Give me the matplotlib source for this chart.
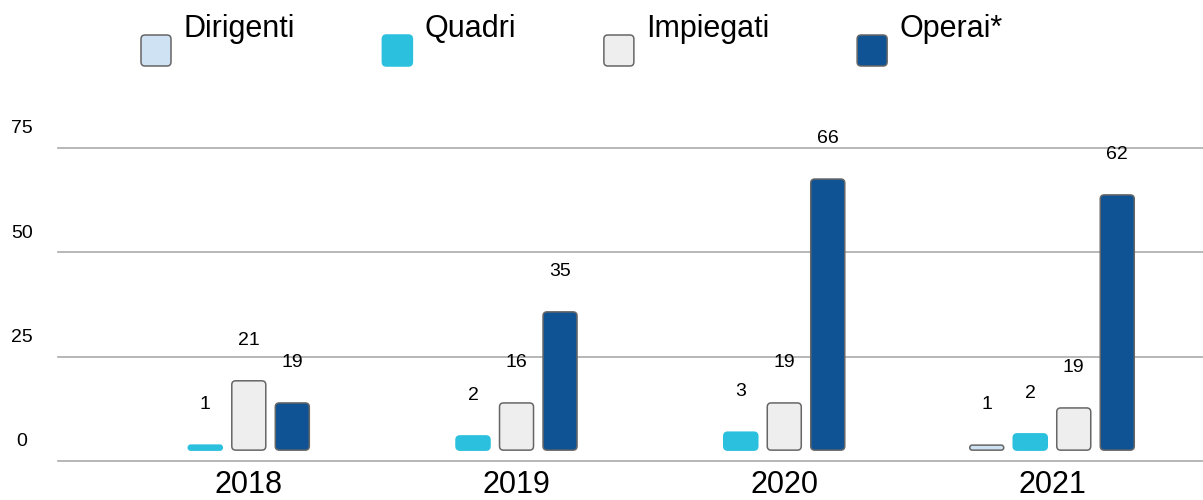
import matplotlib
matplotlib.use('Agg')
import matplotlib.pyplot as plt
from matplotlib.patches import FancyBboxPatch
from matplotlib.transforms import IdentityTransform

plt.rcParams['font.family'] = ['Liberation Sans', 'DejaVu Sans']

years = ['2018', '2019', '2020', '2021']
series = ['Dirigenti', 'Quadri', 'Impiegati', 'Operai*']

# numbers printed over the bars
dirigenti = [0, 0, 0, 1]
quadri = [1, 2, 3, 2]
impiegati = [21, 16, 19, 19]
operai = [19, 35, 66, 62]

# bar tops as drawn in the source (they don't follow the printed numbers)
dirigenti_top = [0, 0, 0, 3.8]
quadri_top = [3.8, 6.0, 6.9, 6.5]
impiegati_top = [19.2, 13.9, 13.9, 12.7]
operai_top = [13.9, 35.7, 67.5, 63.7]

yticks = [0, 25, 50, 75]

colors = ['#cfe2f3', '#2bc0de', '#eeeeee', '#0f5394']
edges = ['#666666', '#2bc0de', '#666666', '#666666']

W, H = 1203, 500
fig = plt.figure(figsize=(W / 100, H / 100), dpi=100)
ax = fig.add_axes([58 / W, 39 / H, (W - 58) / W, 313.3 / H])
ax.set_ylim(0, 75)
ax.set_xlim(-0.7126, 3.564)
ax.axis('off')

# gridlines + y labels (labels sit above their line)
for t in yticks:
    ax.axhline(t, color='#aaaaaa', lw=1.2, zorder=0, clip_on=False)
    ax.annotate(str(t), xy=(22, t), xycoords=('figure pixels', 'data'),
                xytext=(0, 14.5), textcoords='offset pixels',
                ha='center', va='baseline', fontsize=14)

# pixel size of one data unit, used to keep the corners round
p0 = ax.transData.transform((0, 0))
p1 = ax.transData.transform((1, 1))
sx, sy = p1[0] - p0[0], p1[1] - p0[1]


def round_bar(rect, fc, ec):
    x, y = rect.get_x(), rect.get_y()
    w, h = rect.get_width(), rect.get_height()
    rect.remove()
    r = min(4, h * sy / 2, w * sx / 2) / sx
    box = FancyBboxPatch((x, y), w, h,
                         boxstyle='round,pad=0,rounding_size=%f' % r,
                         mutation_aspect=sx / sy,
                         fc=fc, ec=ec, lw=1.1, zorder=2)
    ax.add_patch(box)


labels = [dirigenti, quadri, impiegati, operai]
tops = [dirigenti_top, quadri_top, impiegati_top, operai_top]
slot = 0.1625
width = 0.127
base = 2.6

for g, year in enumerate(years):
    shown = [s for s in range(len(series)) if labels[s][g] > 0]
    n = len(shown)
    for k, s in enumerate(shown):
        x = g + (k - (n - 1) / 2) * slot
        bars = ax.bar(x, tops[s][g] - base, width, bottom=base)
        round_bar(bars[0], colors[s], edges[s])
        ax.annotate(str(labels[s][g]), (x, tops[s][g]), xytext=(0, 36),
                    textcoords='offset pixels', ha='center', va='baseline',
                    fontsize=14, annotation_clip=False)
    ax.annotate(year, (g, 0), xytext=(0, -32), textcoords='offset pixels',
                ha='center', va='baseline', fontsize=22, annotation_clip=False)

# legend drawn by hand: rounded squares, text raised above them
renderer = fig.canvas.get_renderer()
x = 141
for name, c, e in zip(series, colors, edges):
    box = FancyBboxPatch((x, H - 66), 30, 31,
                         boxstyle='round,pad=0,rounding_size=4',
                         fc=c, ec=e, lw=1.1, transform=IdentityTransform())
    fig.add_artist(box)
    t = fig.text((x + 42) / W, (H - 37) / H, name, fontsize=22, va='baseline')
    bb = t.get_window_extent(renderer)
    x = bb.x1 + 88

fig.savefig('out.png', dpi=100)
